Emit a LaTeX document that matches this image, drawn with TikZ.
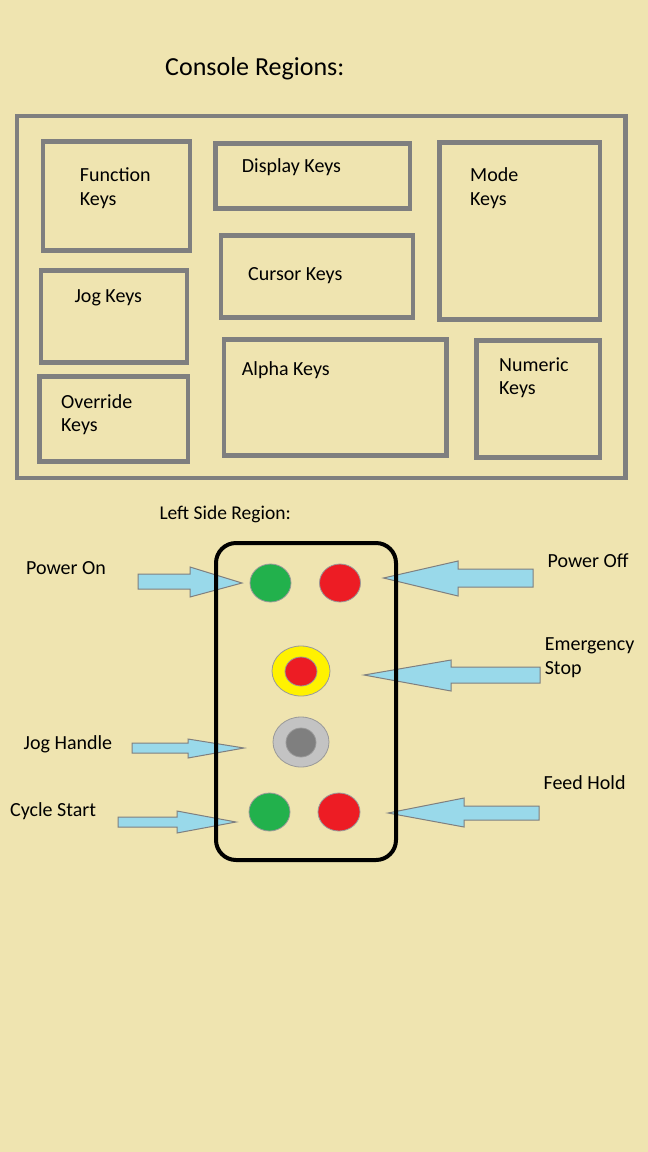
\documentclass[tikz,border=0pt]{standalone}
\usepackage{fontspec}
\setmainfont{Carlito}
\usetikzlibrary{shapes.geometric}
\definecolor{bg}{HTML}{EFE4B0}
\definecolor{boxgray}{HTML}{7F7F7F}
\definecolor{arrowblue}{HTML}{99D9EA}
\definecolor{btngreen}{HTML}{22B14C}
\definecolor{btnred}{HTML}{ED1C24}
\definecolor{btnyellow}{HTML}{FFF200}
\definecolor{ltgray}{HTML}{C3C3C3}
\begin{document}
\begin{tikzpicture}[x=1pt,y=-1pt,
  region/.style={draw=boxgray,line width=4.5pt},
  lbl/.style={anchor=base west,inner sep=0pt,font=\fontsize{20}{23.5}\selectfont,align=left},
  ttl/.style={anchor=base west,inner sep=0pt,font=\fontsize{26}{30}\selectfont},
  barrow/.style={fill=arrowblue,draw=boxgray,line width=1pt,line join=miter},
  btn/.style={ellipse,draw=boxgray!80,line width=0.8pt,inner sep=0pt}]
\fill[bg] (0,0) rectangle (648,1152);
\useasboundingbox (0,0) rectangle (648,1152);

% title
\node[ttl] (title) at (165,75) {Console Regions:};

% regions
\draw[region] (17,116) rectangle (625.5,478);
\draw[region] (43,141.3) rectangle (190,250.7);
\draw[region] (215.7,143.3) rectangle (409.9,208.7);
\draw[region] (439.7,142.3) rectangle (600,319.7);
\draw[region] (41,270.3) rectangle (187,362.3);
\draw[region] (221,235.3) rectangle (413.2,317.7);
\draw[region] (39.7,376.3) rectangle (188,461.3);
\draw[region] (224,339.3) rectangle (446.3,455.7);
\draw[region] (476.5,340.3) rectangle (600,457.3);

% (multi-line labels: base = baseline of the last line)
\node[lbl] (fk) at (79.7,205) {Function\\Keys};
\node[lbl] (dk) at (241.7,172.5) {Display Keys};
\node[lbl] (mk) at (470,205) {Mode\\Keys};
\node[lbl] (jk) at (74.4,302.5) {Jog Keys};
\node[lbl] (ck) at (248,280.5) {Cursor Keys};
\node[lbl] (ok) at (61,431.5) {Override\\Keys};
\node[lbl] (ak) at (241.7,375) {Alpha Keys};
\node[lbl] (nk) at (499,394.5) {Numeric\\Keys};

% left side region
\node[lbl,font=\fontsize{19.5}{23}\selectfont] (lsr) at (159.3,519) {Left Side Region:};

% arrows
\draw[barrow] (138,574) -- (190,574) -- (190,567) -- (242,583) -- (190,597) -- (190,589) -- (138,589) -- cycle;
\draw[barrow] (533,569) -- (458,569) -- (458,561) -- (383.5,578) -- (458,596) -- (458,587) -- (533,587) -- cycle;
\draw[barrow] (540,667) -- (451,667) -- (451,660) -- (364,675) -- (451,691) -- (451,683) -- (540,683) -- cycle;
\draw[barrow] (132,743) -- (188,743) -- (188,739) -- (244,748) -- (188,758) -- (188,753) -- (132,753) -- cycle;
\draw[barrow] (118,817) -- (177,817) -- (177,811) -- (236,822) -- (177,833) -- (177,827) -- (118,827) -- cycle;
\draw[barrow] (539,806) -- (464,806) -- (464,798) -- (388,813) -- (464,827) -- (464,820) -- (539,820) -- cycle;

% panel
\draw[line width=4pt,rounded corners=20pt] (216,543) rectangle (396,860);

% buttons
\node[btn,fill=btngreen,minimum width=41pt,minimum height=38pt] (pon) at (270.5,583) {};
\node[btn,fill=btnred,minimum width=41pt,minimum height=38pt] (poff) at (340,583) {};
\node[btn,fill=btnyellow,minimum width=58pt,minimum height=50pt] (estopo) at (301,671) {};
\node[btn,fill=btnred,minimum width=32pt,minimum height=29pt] (estopi) at (301,671.5) {};
\node[btn,fill=ltgray,minimum width=56pt,minimum height=50pt] (jogo) at (301,742) {};
\node[btn,fill=boxgray,minimum width=30pt,minimum height=29pt] (jogi) at (301,742.5) {};
\node[btn,fill=btngreen,minimum width=41pt,minimum height=38pt] (cs) at (269.5,812) {};
\node[btn,fill=btnred,minimum width=42pt,minimum height=38pt] (fh) at (339,812) {};

% side labels
\node[lbl] (lpon) at (26,574) {Power On};
\node[lbl] (lpoff) at (547.5,567) {Power Off};
\node[lbl] (lestop) at (544.6,674) {Emergency\\Stop};
\node[lbl] (ljog) at (23.5,749) {Jog Handle};
\node[lbl] (lcs) at (10,816) {Cycle Start};
\node[lbl] (lfh) at (543.4,789) {Feed Hold};
\end{tikzpicture}
\end{document}
